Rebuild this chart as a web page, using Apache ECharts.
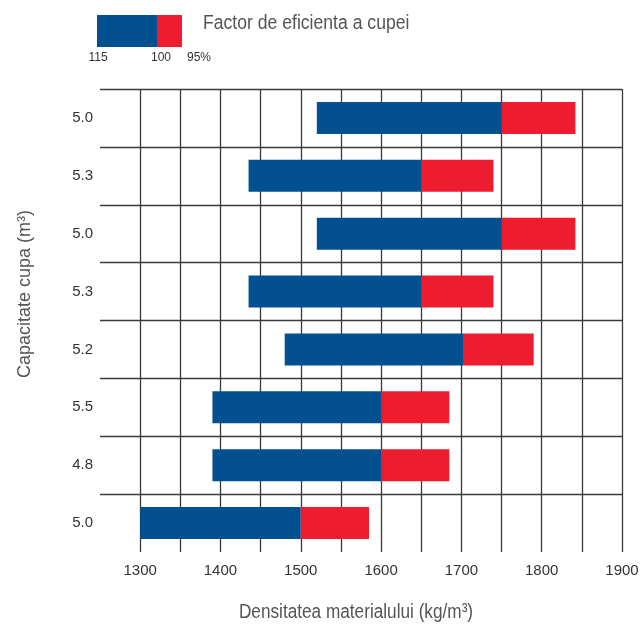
<!DOCTYPE html>
<html>
<head>
<meta charset="utf-8">
<script src="https://cdn.jsdelivr.net/npm/echarts@6/dist/echarts.min.js"></script>
<style>
html,body{margin:0;padding:0;background:#fff;}
#c{width:642px;height:625px;}
</style>
</head>
<body>
<div id="c"></div>
<script>
// Bucket capacity (m3), one row per bucket, top to bottom
var capacities = ['5.0', '5.3', '5.0', '5.3', '5.2', '5.5', '4.8', '5.0'];
// Material density (kg/m3) at bucket fill factor 115%, 100% and 95%
var density115 = [1520, 1435, 1520, 1435, 1480, 1390, 1390, 1300];
var density100 = [1750, 1650, 1750, 1650, 1702, 1600, 1600, 1500];
var density95  = [1842, 1740, 1842, 1740, 1790, 1685, 1685, 1585];
// X tick labels shown
var xTickLabels = [1300, 1400, 1500, 1600, 1700, 1800, 1900];
var legendLabels = ['115', '100', '95%'];

var BLUE = '#02508f';
var RED = '#ed1c2e';
var SANS = '"Liberation Sans", Arial, sans-serif';

var baseVals = density115.slice();
var blueVals = density100.map(function (v, i) { return v - density115[i]; });
var redVals = density95.map(function (v, i) { return v - density100[i]; });

var chart = echarts.init(document.getElementById('c'), null, {renderer: 'canvas'});
chart.setOption({
  animation: false,
  backgroundColor: '#fff',
  grid: {left: 100, right: 20, top: 89, bottom: 73, containLabel: false},
  xAxis: {
    type: 'value',
    min: 1250,
    max: 1900,
    interval: 50,
    axisLine: {show: false},
    axisTick: {show: false},
    splitLine: {show: true, showMinLine: false, lineStyle: {color: '#3a3a3a', width: 1.3}},
    axisLabel: {
      margin: 11,
      color: '#333',
      fontFamily: SANS,
      fontSize: 15,
      formatter: function (v) { return xTickLabels.indexOf(v) >= 0 ? String(v) : ''; }
    }
  },
  yAxis: {
    type: 'category',
    inverse: true,
    data: capacities,
    axisLine: {show: false},
    axisTick: {show: false},
    splitLine: {show: true, showMaxLine: false, lineStyle: {color: '#3a3a3a', width: 1.3}},
    axisLabel: {margin: 7, color: '#333', fontFamily: SANS, fontSize: 15}
  },
  series: [
    {
      type: 'bar', stack: 'd', data: baseVals, barWidth: 32,
      itemStyle: {color: 'rgba(0,0,0,0)'}, silent: true
    },
    {
      type: 'bar', stack: 'd', data: blueVals, barWidth: 32,
      itemStyle: {color: BLUE}
    },
    {
      type: 'bar', stack: 'd', data: redVals, barWidth: 32,
      itemStyle: {color: RED}
    }
  ],
  graphic: [
    {type: 'rect', shape: {x: 97, y: 15, width: 60, height: 32}, style: {fill: BLUE}},
    {type: 'rect', shape: {x: 157, y: 15, width: 25, height: 32}, style: {fill: RED}},
    {type: 'text', x: 98, y: 58, style: {text: legendLabels[0], fill: '#333', font: '12px ' + SANS, textAlign: 'center', textVerticalAlign: 'middle'}},
    {type: 'text', x: 161, y: 58, style: {text: legendLabels[1], fill: '#333', font: '12px ' + SANS, textAlign: 'center', textVerticalAlign: 'middle'}},
    {type: 'text', x: 199, y: 58, style: {text: legendLabels[2], fill: '#333', font: '12px ' + SANS, textAlign: 'center', textVerticalAlign: 'middle'}},
    {type: 'text', x: 203, y: 23, scaleX: 0.88, style: {text: 'Factor de eficienta a cupei', fill: '#555', font: '20px ' + SANS, textAlign: 'left', textVerticalAlign: 'middle'}},
    {type: 'text', x: 356, y: 612, scaleX: 0.86, style: {text: 'Densitatea materialului (kg/m³)', fill: '#555', font: '20px ' + SANS, textAlign: 'center', textVerticalAlign: 'middle'}},
    {type: 'text', x: 25, y: 294, rotation: Math.PI / 2, style: {text: 'Capacitate cupa (m³)', fill: '#555', font: '18px ' + SANS, textAlign: 'center', textVerticalAlign: 'middle'}}
  ]
});
</script>
</body>
</html>
